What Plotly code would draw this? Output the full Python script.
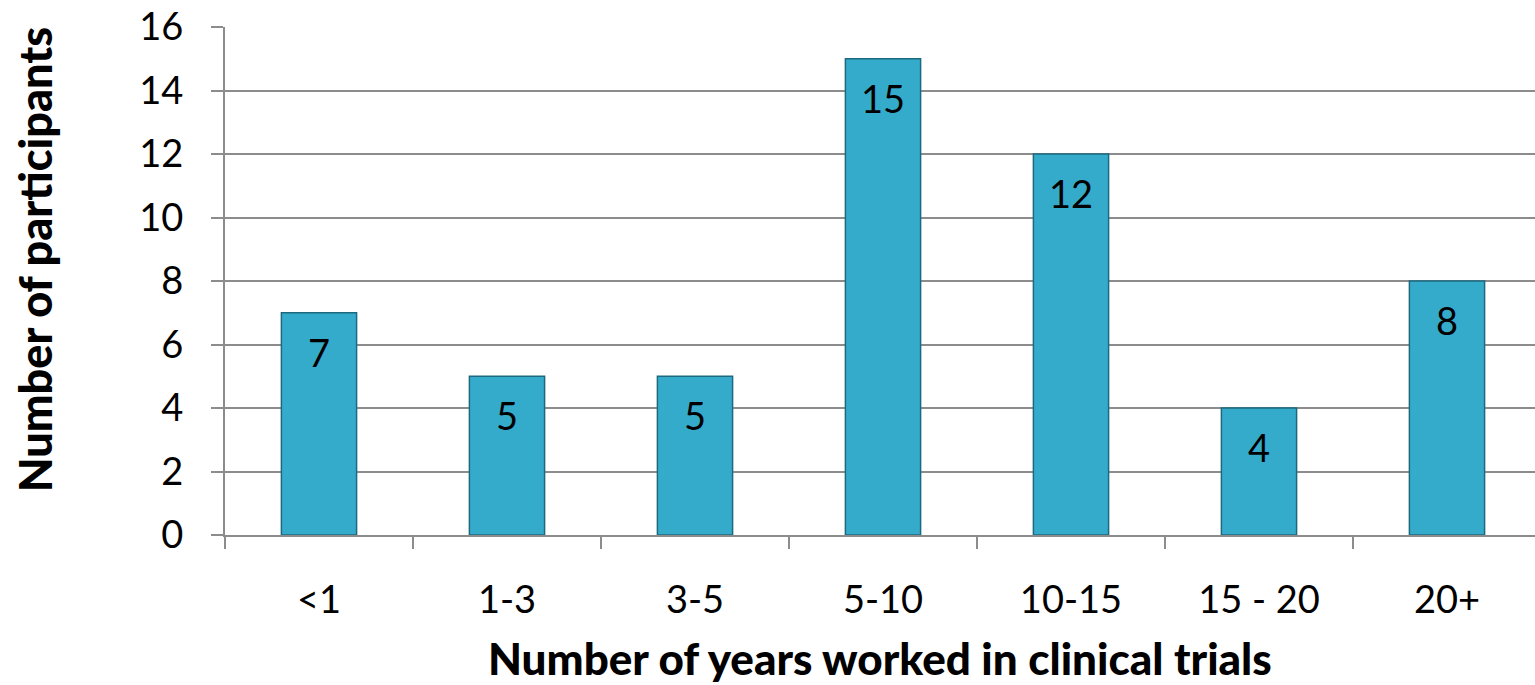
import plotly.graph_objects as go

categories = ["<1", "1-3", "3-5", "5-10", "10-15", "15 - 20", "20+"]
participants = [7, 5, 5, 15, 12, 4, 8]
y_ticks = [0, 2, 4, 6, 8, 10, 12, 14, 16]

FONT = "Lato"
GRID = "#8c8c8c"

fig = go.Figure()
fig.add_trace(go.Bar(
    x=categories,
    y=participants,
    width=0.4,
    marker=dict(color="#35ABCB", line=dict(color="#1d6a80", width=1.5)),
    showlegend=False,
))

for c, v in zip(categories, participants):
    fig.add_annotation(x=c, y=v, text=str(v), showarrow=False, yanchor="top",
                       yshift=-14, font=dict(family=FONT, size=38, color="black"))

fig.add_annotation(text="Number of years worked in clinical trials", xref="paper", yref="paper",
                   x=0.5, y=-0.242, xanchor="center", yanchor="middle", showarrow=False,
                   font=dict(family=FONT, size=44, color="black", weight=900))
fig.add_annotation(text="Number of participants", xref="paper", yref="paper",
                   x=-0.145, y=0.541, xanchor="center", yanchor="middle", textangle=-90, showarrow=False,
                   font=dict(family=FONT, size=45, color="black", weight=900))

fig.update_layout(
    width=1535, height=685,
    margin=dict(l=225, r=0, t=27, b=150),
    plot_bgcolor="white", paper_bgcolor="white",
    font=dict(family=FONT, size=38, color="black"),
)
fig.update_xaxes(
    range=[-0.5, -0.5 + 1310 / 188],
    showgrid=False, showline=True, linecolor=GRID, linewidth=2,
    ticks="outside", tickson="boundaries", ticklen=12, tickcolor=GRID, tickwidth=2,
    ticklabelstandoff=30, automargin=False,
)
fig.update_yaxes(
    range=[0, 16], tickvals=y_ticks,
    showgrid=True, gridcolor=GRID, gridwidth=2,
    showline=True, linecolor=GRID, linewidth=2,
    ticks="outside", ticklen=12, tickcolor=GRID, tickwidth=2,
    ticklabelstandoff=20, zeroline=False, ticklabeloverflow="allow",
    automargin=False,
)

fig.write_html("out.html", config={"displayModeBar": False},
               post_script="document.body.style.margin='0';")
